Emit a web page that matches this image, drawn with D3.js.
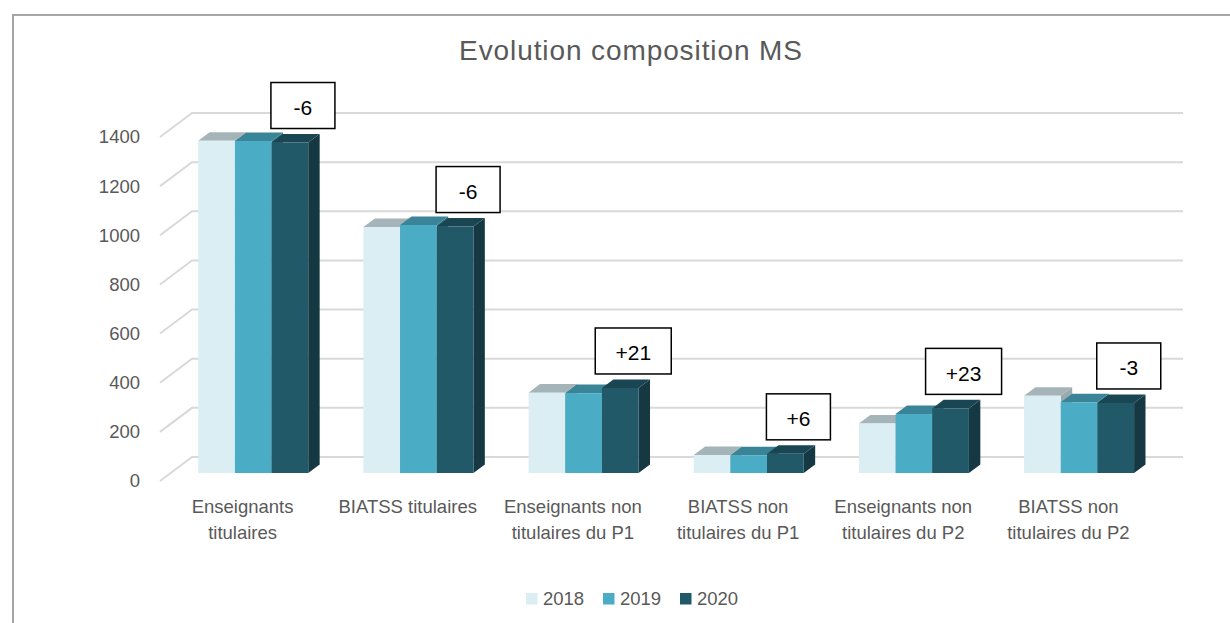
<!DOCTYPE html>
<html>
<head>
<meta charset="utf-8">
<script src="https://cdn.jsdelivr.net/npm/d3@7"></script>
<style>
  body { margin: 0; background: #fff; }
  text { font-family: "Liberation Sans", Arial, sans-serif; }
</style>
</head>
<body>
<div id="chart"></div>
<script>
// data
var categories = [
  "Enseignants titulaires",
  "BIATSS titulaires",
  "Enseignants non titulaires du P1",
  "BIATSS non titulaires du P1",
  "Enseignants non titulaires du P2",
  "BIATSS non titulaires du P2"
];
var years = ["2018", "2019", "2020"];
var values2018 = [1352, 1001, 327, 73, 201, 314];
var values2019 = [1351, 1009, 325, 72, 240, 288];
var values2020 = [1345, 1003, 346, 78, 263, 285];
var yTicks = [0, 200, 400, 600, 800, 1000, 1200, 1400];

var svgWidth = 1230;
var svgHeight = 623;

// face colours per year: front, top, side
var colors = {
  "2018": { front: "#dbeef4", top: "#a5b4b8", side: "#9aa9ad" },
  "2019": { front: "#4bacc6", top: "#3a8497", side: "#2f7082" },
  "2020": { front: "#215968", top: "#1a4653", side: "#153842" }
};

var svg = d3.select("#chart")
  .append("svg")
  .attr("width", svgWidth)
  .attr("height", svgHeight);

// chart frame (only top and left edges are in view)
svg.append("path")
  .attr("d", "M13,623 L13,15 L1230,15")
  .attr("fill", "none")
  .attr("stroke", "#a6a6a6")
  .attr("stroke-width", 2);

// title
svg.append("text")
  .attr("x", 631)
  .attr("y", 60)
  .attr("text-anchor", "middle")
  .attr("font-size", "28px")
  .attr("letter-spacing", "0.9px")
  .attr("fill", "#595959")
  .text("Evolution composition MS");

// oblique 3D set-up
var floorY = 481;
var depthX = 32, depthY = -24;
var barFront = 1 / 3, barBack = 0.69;

var height = d3.scaleLinear().domain([0, 1400]).range([0, 344]);

var x = d3.scaleBand()
  .domain(categories)
  .range([160, 1151])
  .paddingInner(0.334)
  .paddingOuter(0.167);

var xYear = d3.scaleBand()
  .domain(years)
  .range([0, x.bandwidth()])
  .padding(0);

// z moves the point back and up
function pt(px, v, z) {
  return [px + z * depthX, floorY - height(v) + z * depthY];
}

// gridlines: side wall diagonal + back wall
var grid = svg.append("g");
yTicks.forEach(function(t) {
  var a = pt(160, t, 0), b = pt(160, t, 1), c = pt(1151, t, 1);
  grid.append("path")
    .attr("d", "M" + a + "L" + b + "L" + c)
    .attr("fill", "none")
    .attr("stroke", "#d9d9d9")
    .attr("stroke-width", 2);
});

// y tick labels
svg.append("g").selectAll("text")
  .data(yTicks)
  .enter()
  .append("text")
  .attr("x", 140)
  .attr("y", d => pt(0, d, 0)[1])
  .attr("dy", "0.35em")
  .attr("text-anchor", "end")
  .attr("font-size", "18.5px")
  .attr("fill", "#595959")
  .text(d => d);

// flat bar list
var series = { "2018": values2018, "2019": values2019, "2020": values2020 };
var bars = [];
categories.forEach(function(cat, i) {
  years.forEach(function(yr) {
    bars.push({ cat: cat, year: yr, value: series[yr][i] });
  });
});

function poly(points) {
  return "M" + points.join("L") + "Z";
}

var barGroups = svg.append("g").selectAll("g")
  .data(bars)
  .enter()
  .append("g");

barGroups.each(function(d) {
  var g = d3.select(this);
  var x0 = x(d.cat) + xYear(d.year);
  var x1 = x0 + xYear.bandwidth();
  var c = colors[d.year];
  g.append("path")
    .attr("d", poly([pt(x1, d.value, barFront), pt(x1, d.value, barBack), pt(x1, 0, barBack), pt(x1, 0, barFront)]))
    .attr("fill", c.side);
  g.append("path")
    .attr("d", poly([pt(x0, d.value, barFront), pt(x1, d.value, barFront), pt(x1, d.value, barBack), pt(x0, d.value, barBack)]))
    .attr("fill", c.top);
  g.append("path")
    .attr("d", poly([pt(x0, d.value, barFront), pt(x1, d.value, barFront), pt(x1, 0, barFront), pt(x0, 0, barFront)]))
    .attr("fill", c.front);
});

// category labels, wrapped
var labelGroup = svg.append("g");
categories.forEach(function(cat) {
  var cx = x(cat) + x.bandwidth() / 2;
  var t = labelGroup.append("text")
    .attr("x", cx)
    .attr("y", 513)
    .attr("text-anchor", "middle")
    .attr("font-size", "18.5px")
    .attr("fill", "#595959");
  var line = [];
  var tspan = t.append("tspan").attr("x", cx).attr("dy", 0);
  cat.split(" ").forEach(function(w) {
    line.push(w);
    tspan.text(line.join(" "));
    if (tspan.node().getComputedTextLength() > 150 && line.length > 1) {
      line.pop();
      tspan.text(line.join(" "));
      line = [w];
      tspan = t.append("tspan")
        .attr("x", cx)
        .attr("dy", "26px")
        .text(w);
    }
  });
});

// change 2019 -> 2020 boxes
var notes = svg.append("g");
categories.forEach(function(cat, i) {
  var diff = values2020[i] - values2019[i];
  var label = (diff > 0 ? "+" : "") + diff;
  var cx = pt(x(cat) + xYear("2020") + xYear.bandwidth() / 2, 0, barFront)[0] + 13;
  var bottom = pt(0, values2020[i], barFront)[1] - 14;
  var w = 40 + label.length * 12;
  var h = 46;
  notes.append("rect")
    .attr("x", cx - w / 2)
    .attr("y", bottom - h)
    .attr("width", w)
    .attr("height", h)
    .attr("fill", "#fff")
    .attr("stroke", "#000")
    .attr("stroke-width", 1.5);
  notes.append("text")
    .attr("x", cx)
    .attr("y", bottom - h / 2 + 2)
    .attr("dy", "0.35em")
    .attr("text-anchor", "middle")
    .attr("font-size", "21px")
    .attr("fill", "#000")
    .text(label);
});

// legend
var legend = svg.append("g").attr("transform", "translate(526, 593)");
var items = legend.selectAll("g")
  .data(years)
  .enter()
  .append("g")
  .attr("transform", (d, i) => `translate(${i * 77}, 0)`);
items.append("rect")
  .attr("width", 11.5)
  .attr("height", 11.5)
  .attr("fill", d => colors[d].front);
items.append("text")
  .attr("x", 17)
  .attr("y", 6)
  .attr("dy", "0.35em")
  .attr("font-size", "18.5px")
  .attr("fill", "#595959")
  .text(d => d);
</script>
</body>
</html>
